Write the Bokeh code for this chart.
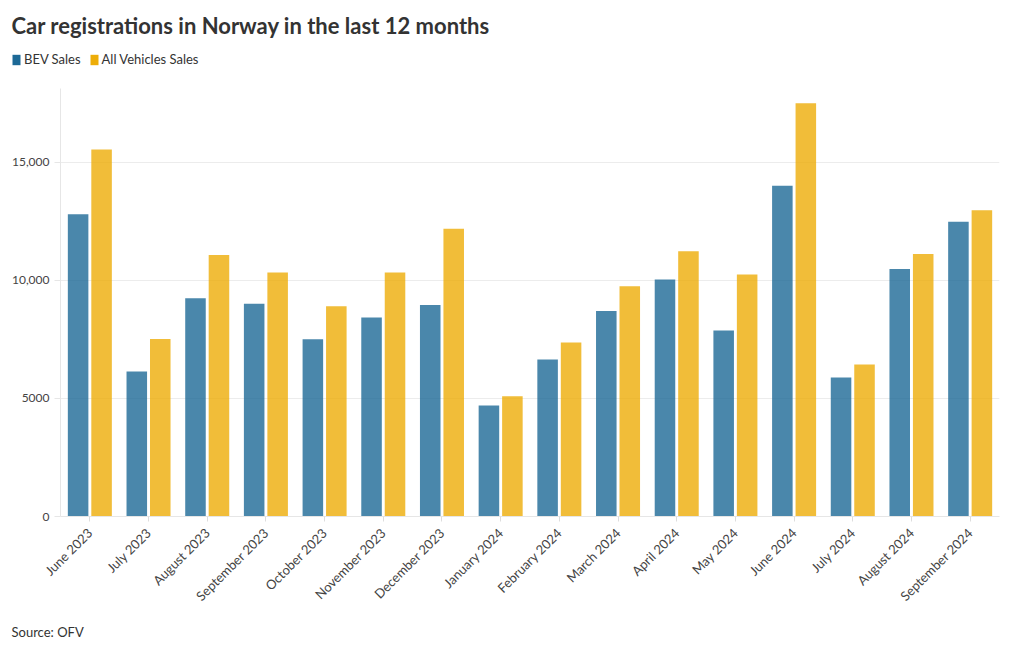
from math import pi
from bokeh.plotting import figure
from bokeh.layouts import column
from bokeh.models import ColumnDataSource, Range1d, FactorRange, Label, Legend, LegendItem, FixedTicker
from bokeh.transform import dodge
from bokeh.embed import file_html
from bokeh.resources import INLINE

months = ["June 2023", "July 2023", "August 2023", "September 2023", "October 2023",
          "November 2023", "December 2023", "January 2024", "February 2024", "March 2024",
          "April 2024", "May 2024", "June 2024", "July 2024", "August 2024", "September 2024"]
bev_sales = [12800, 6140, 9240, 9010, 7510, 8430, 8960, 4700, 6650, 8700,
             10040, 7880, 14010, 5890, 10480, 12490]
all_sales = [15550, 7520, 11080, 10340, 8910, 10340, 12190, 5090, 7370, 9750,
             11240, 10250, 17510, 6440, 11120, 12970]
y_ticks = [0, 5000, 10000, 15000]
y_tick_labels = ["0", "5000", "10,000", "15,000"]

BLUE = "#1d6996"
YELLOW = "#edad08"
FONT = "Lato"
TEXT = "#333333"
W = 1016
HEAD_H = 80
MAIN_H = 536
FOOT_H = 30


def bare_fig(h):
    f = figure(width=W, height=h, x_range=Range1d(0, 1), y_range=Range1d(0, 1),
               output_backend="svg", toolbar_location=None,
               x_axis_type=None, y_axis_type=None,
               min_border_left=0, min_border_right=0, min_border_top=0, min_border_bottom=0)
    f.frame_align = False
    f.outline_line_color = None
    f.xgrid.visible = False
    f.ygrid.visible = False
    f.background_fill_color = "white"
    f.border_fill_color = "white"
    return f


# ---- header: title + legend
head = bare_fig(HEAD_H)
head.add_layout(Label(x=11, y=HEAD_H - 25, x_units="screen", y_units="screen",
                      text="Car registrations in Norway in the last 12 months",
                      text_font=FONT, text_font_style="bold", text_font_size="22px",
                      text_color=TEXT, text_baseline="alphabetic"))
proxy = ColumnDataSource(dict(x=[5], top=[0]))
l1 = head.vbar(x="x", top="top", width=0.3, source=proxy, fill_color=BLUE, line_color=None)
l2 = head.vbar(x="x", top="top", width=0.3, source=proxy, fill_color=YELLOW, line_color=None)
legend = Legend(items=[LegendItem(label="BEV Sales", renderers=[l1]),
                       LegendItem(label="All Vehicles Sales", renderers=[l2])],
                orientation="horizontal", location=(11, HEAD_H - 67),
                glyph_width=10, glyph_height=13, label_standoff=3, spacing=8,
                padding=0, margin=0, border_line_color=None, background_fill_alpha=0,
                label_text_font=FONT, label_text_font_size="13px", label_text_color=TEXT,
                label_height=13)
head.add_layout(legend)

# ---- main chart
src = ColumnDataSource(dict(month=months, bev=bev_sales, all=all_sales))
p = figure(width=W, height=MAIN_H, x_range=FactorRange(factors=months, range_padding=0),
           y_range=Range1d(0, 18130), output_backend="svg", toolbar_location=None,
           min_border_left=60, min_border_right=W - 999, min_border_top=88 - HEAD_H,
           min_border_bottom=HEAD_H + MAIN_H - 516)
p.outline_line_color = None
p.background_fill_color = "white"
p.border_fill_color = "white"

p.vbar(x=dodge("month", -0.2, range=p.x_range), top="bev", width=0.35, source=src,
       fill_color=BLUE, fill_alpha=0.8, line_color=None)
p.vbar(x=dodge("month", 0.2, range=p.x_range), top="all", width=0.35, source=src,
       fill_color=YELLOW, fill_alpha=0.8, line_color=None)

p.xgrid.grid_line_color = None
p.ygrid.grid_line_color = "#ececec"
p.ygrid.grid_line_width = 1

p.yaxis.ticker = FixedTicker(ticks=y_ticks)
p.yaxis.major_label_overrides = {t: l for t, l in zip(y_ticks, y_tick_labels)}
p.yaxis.axis_line_color = "#e6e6e6"
p.yaxis.major_tick_line_color = "#e6e6e6"
p.yaxis.major_tick_out = 6
p.yaxis.major_tick_in = 0
p.yaxis.minor_tick_line_color = None
p.yaxis.major_label_standoff = 5
p.yaxis.major_label_text_font = FONT
p.yaxis.major_label_text_font_size = "12px"
p.yaxis.major_label_text_color = "#444444"

p.xaxis.axis_line_color = "#e6e6e6"
p.xaxis.major_tick_line_color = "#dddddd"
p.xaxis.major_tick_out = 5
p.xaxis.major_tick_in = 0
p.xaxis.major_label_orientation = pi / 4
p.xaxis.major_label_standoff = 9
p.xaxis.major_label_text_font = FONT
p.xaxis.major_label_text_font_size = "13px"
p.xaxis.major_label_text_color = "#444444"

# ---- footer: source
foot = bare_fig(FOOT_H)
foot.add_layout(Label(x=11, y=15, x_units="screen", y_units="screen",
                      text="Source: OFV", text_font=FONT, text_font_size="13px",
                      text_color=TEXT, text_baseline="alphabetic"))

layout = column(head, p, foot, spacing=0)
open("out.html", "w").write(file_html(layout, INLINE))
